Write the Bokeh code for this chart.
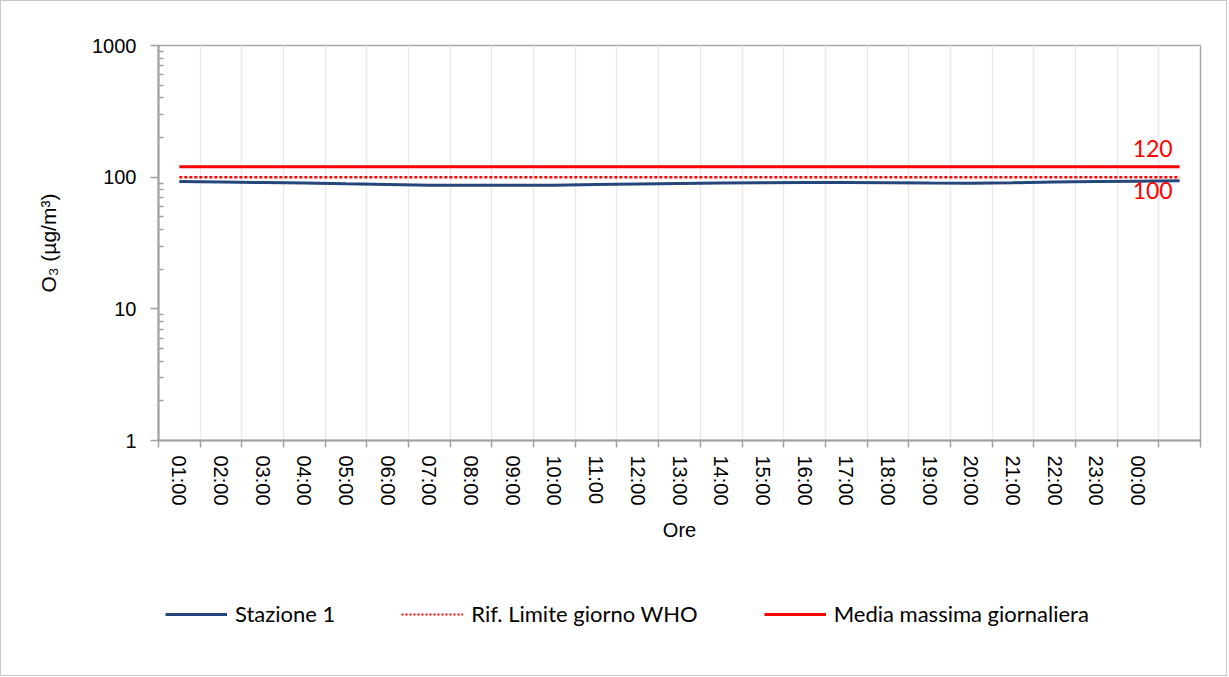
from bokeh.plotting import figure
from bokeh.layouts import column
from bokeh.models import Range1d, FixedTicker, Legend, LegendItem, PrintfTickFormatter
from bokeh.core.properties import value
from bokeh.embed import file_html
from bokeh.resources import INLINE

# ---- data ----
hours = ["01:00", "02:00", "03:00", "04:00", "05:00", "06:00", "07:00", "08:00",
         "09:00", "10:00", "11:00", "12:00", "13:00", "14:00", "15:00", "16:00",
         "17:00", "18:00", "19:00", "20:00", "21:00", "22:00", "23:00", "00:00", ""]
stazione1 = [92.6, 91.8, 91.0, 90.2, 89.0, 88.1, 87.0, 86.8, 86.8, 87.0, 87.8, 88.6,
             89.4, 90.2, 90.7, 91.0, 91.0, 90.7, 90.2, 90.0, 90.8, 91.8, 92.6, 93.2, 93.8]
who_limit = 100
media_massima = 120
series_names = ["Stazione 1", "Rif. Limite giorno WHO", "Media massima giornaliera"]

x = [i + 0.5 for i in range(len(hours))]
who_series = [who_limit] * len(hours)
media_series = [media_massima] * len(hours)

BLUE, RED = "#24467a", "#ff0000"
W, H1, H2 = 1225, 580, 94
p = figure(width=W, height=H1, output_backend="svg", toolbar_location=None,
           x_range=Range1d(0, len(hours)), y_range=Range1d(1, 1000), y_axis_type="log",
           min_border_left=157, min_border_right=W - 1199, min_border_top=44,
           min_border_bottom=H1 - 439)

p.outline_line_color = "#a6a6a6"
p.outline_line_width = 1.5
p.background_fill_color = "white"
p.border_fill_color = "white"

AX = "#a0a0a0"
# x axis
p.xaxis.ticker = FixedTicker(ticks=x, minor_ticks=list(range(len(hours) + 1)))
p.xaxis.major_label_overrides = {xi: h for xi, h in zip(x, hours)}
p.xaxis.major_label_orientation = "vertical"
p.xaxis.major_tick_out = 0
p.xaxis.major_tick_in = 0
p.xaxis.minor_tick_out = 7
p.xaxis.minor_tick_in = 0
p.xaxis.major_label_standoff = 8
p.xaxis.axis_label = "Ore"
p.xaxis.axis_label_standoff = 10

# y axis
p.yaxis.ticker = FixedTicker(ticks=[1, 10, 100, 1000],
                             minor_ticks=[m * 10 ** k for k in range(3) for m in range(2, 10)])
p.yaxis.formatter = PrintfTickFormatter(format="%d")
p.yaxis.major_tick_out = 8
p.yaxis.major_tick_in = 0
p.yaxis.minor_tick_in = 5
p.yaxis.minor_tick_out = 0
p.yaxis.major_label_standoff = 14
p.yaxis.axis_label = "O₃ (µg/m³)"
p.yaxis.axis_label_standoff = 29

for ax in (p.xaxis, p.yaxis):
    ax.axis_line_color = AX
    ax.axis_line_width = 2
    ax.major_tick_line_color = AX
    ax.major_tick_line_width = 1.5
    ax.minor_tick_line_color = AX
    ax.minor_tick_line_width = 1.5
    ax.major_label_text_font = "Liberation Sans"
    ax.major_label_text_font_size = "20px"
    ax.major_label_text_color = "black"
    ax.axis_label_text_font = "Liberation Sans"
    ax.axis_label_text_font_style = "normal"
    ax.axis_label_text_color = "black"
p.xaxis.axis_label_text_font_size = "20px"
p.yaxis.axis_label_text_font_size = "21px"

p.xgrid.ticker = FixedTicker(ticks=list(range(1, len(hours))))
p.xgrid.grid_line_color = "#e9e9e9"
p.xgrid.grid_line_width = 1.5
p.ygrid.grid_line_color = None

# series
p.line(x, stazione1, line_color=BLUE, line_width=3)
p.line(x, who_series, line_color=RED, line_width=2.5, line_dash="3 2")
p.line(x, media_series, line_color=RED, line_width=3)

LBL_FONT = "Lato"
p.text(x=[x[-1]], y=[media_massima], text=[str(media_massima)], text_align="right",
       text_baseline="bottom", x_offset=-7, y_offset=-10, text_color=RED,
       text_font=value(LBL_FONT), text_font_size="23px")
p.text(x=[x[-1]], y=[who_limit], text=[str(who_limit)], text_align="right",
       text_baseline="top", x_offset=-7, y_offset=5, text_color=RED,
       text_font=value(LBL_FONT), text_font_size="23px")

# ---- legend strip (a second figure below, same series out of its view) ----
q = figure(width=W, height=H2, output_backend="svg", toolbar_location=None,
           x_range=Range1d(0, len(hours)), y_range=Range1d(0, 1),
           x_axis_location=None, y_axis_location=None,
           min_border_left=0, min_border_right=0, min_border_top=0, min_border_bottom=0)
q.outline_line_color = None
q.xgrid.grid_line_color = None
q.ygrid.grid_line_color = None
l1 = q.line(x, stazione1, line_color=BLUE, line_width=3)
l2 = q.line(x, who_series, line_color=RED, line_width=2, line_dash="2 2")
l3 = q.line(x, media_series, line_color=RED, line_width=3)

legend = Legend(items=[LegendItem(label=n, renderers=[r])
                       for n, r in zip(series_names, [l1, l2, l3])],
                location=(7, 48), orientation="horizontal", glyph_width=62,
                glyph_height=20, label_height=20, label_standoff=8, spacing=66,
                padding=0, margin=0,
                border_line_color=None, background_fill_alpha=0,
                label_text_font=LBL_FONT, label_text_font_size="22px",
                label_text_color="black")
q.add_layout(legend)

layout = column(p, q, spacing=0)
layout.styles = {"border": "1px solid #c8c8c8"}
open("out.html", "w").write(file_html(layout, INLINE))
